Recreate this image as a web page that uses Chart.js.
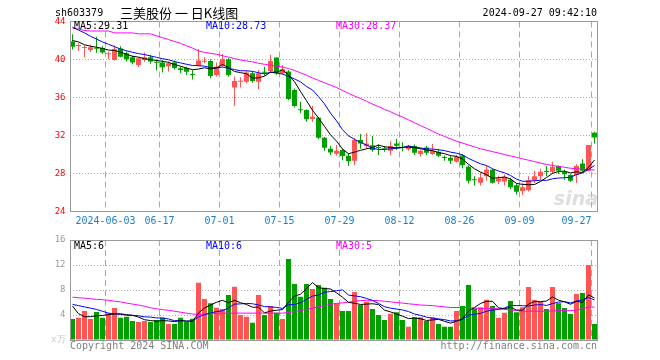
<!DOCTYPE html>
<html>
<head>
<meta charset="utf-8">
<script src="https://cdn.jsdelivr.net/npm/chart.js@4.4.1/dist/chart.umd.min.js"></script>
<style>
  html, body { margin: 0; padding: 0; background: #fff; }
  #wrap { position: relative; width: 660px; height: 360px; }
  #priceChart { position: absolute; left: 0; top: 0; }
  #volumeChart { position: absolute; left: 0; top: 230px; }
</style>
</head>
<body>
<div id="wrap">
  <canvas id="priceChart" width="660" height="232"></canvas>
  <canvas id="volumeChart" width="660" height="130"></canvas>
</div>
<script>
// ---- data (sh603379, daily) ----
const dates = [
  '2024-05-24','2024-05-27','2024-05-28','2024-05-29','2024-05-30','2024-05-31',
  '2024-06-03','2024-06-04','2024-06-05','2024-06-06','2024-06-07',
  '2024-06-11','2024-06-12','2024-06-13','2024-06-14',
  '2024-06-17','2024-06-18','2024-06-19','2024-06-20','2024-06-21',
  '2024-06-24','2024-06-25','2024-06-26','2024-06-27','2024-06-28',
  '2024-07-01','2024-07-02','2024-07-03','2024-07-04','2024-07-05',
  '2024-07-08','2024-07-09','2024-07-10','2024-07-11','2024-07-12',
  '2024-07-15','2024-07-16','2024-07-17','2024-07-18','2024-07-19',
  '2024-07-22','2024-07-23','2024-07-24','2024-07-25','2024-07-26',
  '2024-07-29','2024-07-30','2024-07-31','2024-08-01','2024-08-02',
  '2024-08-05','2024-08-06','2024-08-07','2024-08-08','2024-08-09',
  '2024-08-12','2024-08-13','2024-08-14','2024-08-15','2024-08-16',
  '2024-08-19','2024-08-20','2024-08-21','2024-08-22','2024-08-23',
  '2024-08-26','2024-08-27','2024-08-28','2024-08-29','2024-08-30',
  '2024-09-02','2024-09-03','2024-09-04','2024-09-05','2024-09-06',
  '2024-09-09','2024-09-10','2024-09-11','2024-09-12','2024-09-13',
  '2024-09-18','2024-09-19','2024-09-20',
  '2024-09-23','2024-09-24','2024-09-25','2024-09-26','2024-09-27'
];

const opens = [
  41.90, 41.42, 41.20, 41.00, 41.18, 41.22, 40.54, 39.96, 41.16, 40.67,
  40.24, 39.43, 39.96, 40.24, 39.70, 39.68, 39.30, 39.68, 39.08, 39.10,
  38.40, 39.33, 39.76, 39.85, 38.38, 39.35, 40.03, 37.04, 37.65, 37.67,
  38.56, 37.67, 38.64, 38.80, 40.20, 38.56, 38.73, 36.80, 34.70, 34.68,
  33.74, 33.87, 31.76, 30.60, 30.08, 30.47, 29.87, 29.34, 31.52, 30.89,
  30.97, 30.73, 30.60, 30.39, 31.17, 30.73, 30.54, 30.89, 30.04, 30.75,
  30.04, 30.29, 29.67, 29.65, 29.23, 29.90, 28.70, 27.32, 27.02, 27.72,
  28.40, 27.15, 27.15, 27.35, 26.77, 26.17, 26.25, 27.30, 27.72, 28.20,
  28.18, 28.78, 28.15, 27.83, 27.83, 29.06, 28.28, 32.29
];
const highs = [
  42.67, 41.72, 41.50, 41.55, 42.40, 41.40, 40.84, 41.50, 41.40, 40.85,
  40.40, 40.24, 40.73, 40.50, 40.03, 39.96, 39.80, 39.90, 39.25, 39.25,
  38.90, 41.10, 40.24, 40.03, 39.68, 40.59, 40.15, 38.20, 38.13, 38.85,
  38.75, 38.90, 39.25, 40.49, 40.20, 39.43, 38.90, 36.95, 35.55, 34.75,
  35.10, 33.98, 31.85, 30.89, 31.00, 30.60, 30.10, 31.70, 32.15, 32.23,
  31.94, 31.06, 30.90, 31.40, 31.63, 31.28, 31.00, 31.05, 30.55, 30.90,
  31.10, 30.55, 29.90, 29.82, 29.95, 30.05, 28.88, 27.70, 28.10, 28.88,
  28.50, 27.80, 27.90, 27.55, 26.95, 26.95, 27.70, 28.28, 28.50, 28.78,
  29.23, 28.85, 28.40, 27.95, 28.98, 29.50, 30.99, 32.40
];
const lows = [
  41.05, 40.90, 40.20, 40.80, 40.70, 40.60, 40.03, 39.90, 40.24, 39.80,
  39.50, 39.20, 39.75, 39.55, 38.83, 38.62, 38.75, 38.95, 38.55, 38.40,
  37.90, 39.30, 39.60, 38.03, 38.20, 39.20, 38.20, 35.10, 37.04, 37.50,
  37.55, 36.90, 38.30, 38.60, 38.40, 38.40, 35.70, 34.95, 34.33, 33.45,
  33.45, 31.60, 30.40, 29.94, 29.90, 29.40, 28.80, 28.88, 30.60, 30.60,
  30.30, 29.94, 30.30, 29.94, 30.50, 30.35, 30.40, 29.95, 29.80, 29.95,
  29.95, 29.70, 29.35, 29.00, 29.15, 28.54, 26.95, 26.75, 26.75, 27.25,
  26.95, 26.90, 26.75, 26.35, 25.80, 25.75, 26.10, 27.00, 27.30, 27.70,
  28.00, 27.95, 27.35, 27.10, 27.00, 28.15, 28.20, 31.17
];
const closes = [
  41.33, 41.46, 41.24, 41.30, 41.12, 40.73, 40.58, 41.09, 40.30, 40.03,
  39.68, 40.14, 40.24, 39.80, 39.66, 39.19, 39.60, 39.10, 38.90, 38.70,
  38.36, 39.90, 39.80, 38.27, 39.25, 40.06, 38.38, 37.74, 37.69, 38.62,
  37.74, 38.56, 38.60, 39.85, 38.56, 38.98, 35.85, 35.10, 34.66, 33.70,
  33.98, 31.76, 30.70, 30.20, 30.39, 29.83, 29.30, 31.52, 31.17, 31.17,
  30.47, 30.69, 30.55, 30.89, 30.92, 30.69, 30.89, 30.19, 30.39, 30.19,
  30.39, 29.87, 29.63, 29.34, 29.76, 28.88, 27.23, 27.28, 27.58, 28.40,
  27.02, 27.48, 27.65, 26.55, 26.07, 26.55, 27.30, 27.72, 28.18, 28.15,
  28.70, 28.28, 27.93, 27.23, 28.78, 28.28, 30.99, 31.80
];

const ma5 = [
  42.00, 41.85, 41.55, 41.40, 41.29, 41.17, 40.99, 40.96, 40.76, 40.55,
  40.34, 40.25, 40.08, 39.98, 39.90, 39.81, 39.70, 39.47, 39.29, 39.10,
  38.93, 38.99, 39.13, 39.01, 39.12, 39.46, 39.15, 38.74, 38.62, 38.50,
  38.03, 38.07, 38.24, 38.67, 38.66, 38.91, 38.37, 37.67, 36.63, 35.66,
  34.66, 33.84, 32.96, 32.07, 31.41, 30.58, 30.08, 30.25, 30.44, 30.60,
  30.73, 31.00, 30.81, 30.75, 30.70, 30.75, 30.79, 30.72, 30.62, 30.47,
  30.41, 30.21, 30.09, 29.88, 29.80, 29.50, 28.97, 28.50, 28.15, 27.87,
  27.50, 27.55, 27.63, 27.42, 26.95, 26.86, 26.82, 26.84, 27.16, 27.58,
  28.01, 28.21, 28.25, 28.06, 28.18, 28.10, 28.64, 29.42
];
const ma10 = [
  43.40, 43.10, 42.80, 42.45, 42.15, 41.85, 41.60, 41.35, 41.10, 40.92,
  40.76, 40.62, 40.52, 40.37, 40.23, 40.08, 39.98, 39.78, 39.64, 39.50,
  39.37, 39.35, 39.30, 39.15, 39.11, 39.20, 39.07, 38.94, 38.82, 38.81,
  38.75, 38.61, 38.49, 38.65, 38.58, 38.47, 38.22, 37.96, 37.65, 37.16,
  36.79, 36.10, 35.32, 34.35, 33.54, 32.62, 31.96, 31.60, 31.26, 31.00,
  30.66, 30.54, 30.53, 30.60, 30.65, 30.74, 30.90, 30.77, 30.69, 30.59,
  30.58, 30.50, 30.41, 30.25, 30.14, 29.96, 29.59, 29.30, 29.02, 28.84,
  28.50, 28.26, 28.07, 27.79, 27.41, 27.18, 27.19, 27.24, 27.29, 27.27,
  27.44, 27.52, 27.55, 27.61, 27.88, 28.06, 28.43, 28.84
];
const ma30 = [
  43.30, 43.20, 43.05, 43.00, 43.00, 43.00, 43.00, 42.80, 42.80, 42.80,
  42.80, 42.70, 42.70, 42.70, 42.50, 42.30, 42.10, 41.90, 41.70, 41.45,
  41.20, 40.90, 40.75, 40.65, 40.55, 40.40, 40.25, 40.10, 39.95, 39.85,
  39.75, 39.60, 39.50, 39.40, 39.30, 39.20, 39.05, 38.85, 38.60, 38.35,
  38.05, 37.80, 37.55, 37.30, 37.05, 36.75, 36.45, 36.15, 35.90, 35.60,
  35.30, 35.05, 34.75, 34.50, 34.20, 33.95, 33.65, 33.35, 33.05, 32.75,
  32.45, 32.15, 31.90, 31.65, 31.40, 31.20, 31.00, 30.80, 30.60, 30.45,
  30.30, 30.15, 30.00, 29.85, 29.70, 29.55, 29.40, 29.25, 29.10, 28.95,
  28.85, 28.75, 28.65, 28.55, 28.50, 28.45, 28.40, 28.37
];

// volume, unit: 10k lots
const volumes = [
  3.36, 3.57, 4.64, 3.36, 4.48, 3.57, 4.27, 5.12, 3.57, 3.73,
  3.04, 2.88, 3.04, 2.88, 3.20, 3.57, 2.56, 2.56, 3.57, 2.88,
  3.41, 9.17, 6.56, 5.87, 5.17, 4.96, 7.20, 8.53, 4.00, 3.73,
  2.77, 7.20, 4.00, 5.44, 4.37, 3.36, 12.96, 8.96, 6.93, 8.96,
  8.16, 8.80, 8.37, 6.56, 5.87, 4.64, 4.64, 7.68, 5.60, 6.13,
  4.96, 4.00, 3.20, 4.21, 4.43, 3.20, 2.13, 3.63, 3.63, 3.04,
  3.63, 2.56, 2.13, 2.13, 4.64, 5.44, 8.80, 5.07, 5.23, 6.45,
  5.44, 3.57, 4.37, 6.24, 4.43, 5.23, 8.48, 6.40, 6.13, 4.96,
  8.48, 5.87, 5.12, 4.16, 7.36, 7.52, 12.00, 2.56
];
const volMa5 = [
  5.44, 4.20, 3.73, 3.73, 3.88, 3.92, 4.06, 4.16, 4.20, 4.05,
  3.95, 3.67, 3.25, 3.11, 3.01, 3.11, 3.05, 2.95, 3.09, 3.03,
  3.00, 4.32, 5.12, 5.58, 6.04, 6.35, 5.95, 6.35, 5.97, 5.68,
  5.25, 5.25, 4.34, 4.63, 4.76, 4.87, 6.03, 7.02, 7.32, 8.23,
  9.19, 8.36, 8.24, 8.17, 7.55, 6.85, 6.02, 5.88, 5.69, 5.74,
  5.80, 5.67, 4.78, 4.50, 4.16, 3.81, 3.43, 3.52, 3.40, 3.13,
  3.21, 3.30, 3.00, 2.70, 3.02, 3.38, 4.63, 5.22, 5.84, 6.20,
  6.20, 5.15, 5.01, 5.21, 4.81, 4.77, 5.75, 6.16, 6.13, 6.24,
  6.89, 6.37, 6.11, 5.72, 6.20, 6.01, 7.23, 6.72
];
const volMa10 = [
  5.70, 5.50, 5.30, 5.10, 4.90, 4.60, 4.30, 4.20, 4.10, 3.97,
  3.94, 3.87, 3.71, 3.66, 3.53, 3.53, 3.36, 3.10, 3.10, 3.02,
  3.06, 3.69, 4.04, 4.34, 4.54, 4.68, 5.14, 5.74, 5.78, 5.86,
  5.80, 5.60, 5.35, 5.30, 5.22, 5.06, 5.64, 5.68, 5.98, 6.50,
  7.03, 7.20, 7.63, 7.75, 7.89, 8.02, 7.19, 7.06, 6.93, 6.65,
  6.33, 5.85, 5.33, 5.10, 4.95, 4.81, 4.55, 4.15, 3.95, 3.65,
  3.51, 3.37, 3.26, 3.05, 3.08, 3.30, 3.97, 4.11, 4.27, 4.61,
  4.79, 4.89, 5.12, 5.53, 5.51, 5.49, 5.45, 5.59, 5.67, 5.53,
  5.83, 6.06, 6.14, 5.93, 6.22, 6.45, 6.80, 6.42
];
const volMa30 = [
  6.85, 6.75, 6.70, 6.60, 6.50, 6.45, 6.35, 6.20, 6.10, 5.90,
  5.75, 5.60, 5.40, 5.15, 5.00, 4.85, 4.75, 4.60, 4.45, 4.30,
  4.15, 4.10, 4.15, 4.20, 4.25, 4.30, 4.30, 4.30, 4.30, 4.30,
  4.30, 4.30, 4.30, 4.30, 4.30, 4.30, 4.40, 4.55, 4.70, 4.90,
  5.10, 5.30, 5.50, 5.70, 5.85, 5.95, 6.05, 6.20, 6.30, 6.35,
  6.35, 6.30, 6.20, 6.10, 6.00, 5.90, 5.80, 5.70, 5.60, 5.55,
  5.50, 5.40, 5.30, 5.20, 5.20, 5.20, 5.20, 5.10, 5.05, 5.05,
  5.05, 5.00, 4.90, 4.80, 4.70, 4.60, 4.60, 4.60, 4.60, 4.60,
  4.65, 4.70, 4.70, 4.70, 4.80, 5.00, 5.30, 5.25
];

// axis ticks
const tickDates = ['2024-06-03','2024-06-17','2024-07-01','2024-07-15','2024-07-29',
                   '2024-08-12','2024-08-26','2024-09-09','2024-09-27'];
const tickLabels = ['2024-06-03','06-17','07-01','07-15','07-29','08-12','08-26','09-09','09-27'];
const priceTicks = [24, 28, 32, 36, 40, 44];
const volumeTicks = [0, 4, 8, 12, 16];

// texts
const stockCode = 'sh603379';
const chartTitle = '三美股份 一 日K线图';
const stampText = '2024-09-27 09:42:10';
const priceLegend = ['MA5:29.31', 'MA10:28.73', 'MA30:28.37'];
const volumeLegend = ['MA5:6', 'MA10:6', 'MA30:5'];

(function() {
    'use strict';

    const MONO = '"DejaVu Sans Mono", "Liberation Mono", monospace';
    const RED = '#ff5555';
    const GREEN = '#00a000';
    const LINE_COLORS = ['#000000', '#0000ff', '#ff00ff'];
    const FRAME = '#999999';

    const upColors = closes.map((c, i) => c >= opens[i] ? RED : GREEN);

    function isTickDate(i) {
        return tickDates.indexOf(dates[i]) !== -1;
    }

    // trailing spaces nudge the centred label left onto the dashed line
    function tickText(i) {
        const k = tickDates.indexOf(dates[i]);
        if (k === -1) return '';
        const pad = (k === tickDates.length - 1) ? '      ' : ' ';
        return tickLabels[k] + pad;
    }

    function xScale(showLabels, axisHeight) {
        return {
            offset: true,
            grid: {
                offset: true,
                drawTicks: false,
                color: ctx => (ctx.index !== undefined && isTickDate(ctx.index)) ? '#a8a8a8' : 'transparent'
            },
            border: { display: false, dash: [6, 4] },
            ticks: {
                display: showLabels,
                autoSkip: false,
                maxRotation: 0,
                padding: 4,
                color: '#1a7fcf',
                font: { family: MONO, size: 10 },
                callback: (v, i) => tickText(i)
            },
            afterFit: s => { s.height = axisHeight; }
        };
    }

    function yScale(min, max, ticks, color, callback) {
        return {
            min: min,
            max: max,
            afterBuildTicks: s => { s.ticks = ticks.map(v => ({ value: v })); },
            grid: {
                drawTicks: false,
                color: ctx => (ctx.tick && (ctx.tick.value === min || ctx.tick.value === max)) ? 'transparent' : '#b0b0b0'
            },
            border: { display: false, dash: [1, 2] },
            ticks: {
                padding: 4,
                color: color,
                font: { family: MONO, size: 9 },
                callback: callback
            },
            afterFit: s => { s.width = 69.5; }
        };
    }

    function maDataset(data, color) {
        return {
            type: 'line',
            data: data,
            borderColor: color,
            borderWidth: 1,
            pointRadius: 0,
            tension: 0,
            order: 0
        };
    }

    function drawFrame(chart) {
        const a = chart.chartArea;
        const ctx = chart.ctx;
        const l = Math.round(a.left) + 0.5;
        const r = Math.round(a.right) - 0.5;
        const t = Math.floor(a.top) + 0.5;
        const b = Math.floor(a.bottom) + 0.5;
        ctx.save();
        ctx.strokeStyle = FRAME;
        ctx.lineWidth = 1;
        ctx.strokeRect(l, t, r - l, b - t);
        ctx.restore();
    }

    function drawLegend(ctx, texts, y) {
        const xs = [74, 206, 336];
        ctx.font = '10px ' + MONO;
        ctx.textBaseline = 'middle';
        ctx.textAlign = 'left';
        texts.forEach((t, i) => {
            ctx.fillStyle = LINE_COLORS[i];
            ctx.fillText(t, xs[i], y);
        });
    }

    const priceDecor = {
        id: 'priceDecor',
        afterDraw(chart) {
            drawFrame(chart);
            const ctx = chart.ctx;
            ctx.save();
            ctx.textBaseline = 'middle';
            ctx.fillStyle = '#000';
            ctx.font = '10px ' + MONO;
            ctx.textAlign = 'left';
            ctx.fillText(stockCode, 55, 13);
            ctx.textAlign = 'right';
            ctx.fillText(stampText, 597, 13);
            ctx.textAlign = 'left';
            ctx.font = '13px "Noto Sans CJK SC", sans-serif';
            ctx.fillText(chartTitle, 120, 13);
            drawLegend(ctx, priceLegend, 26.5);
            // faint sina watermark
            ctx.font = 'italic bold 19px "DejaVu Sans", sans-serif';
            ctx.fillStyle = 'rgba(200, 200, 200, 0.6)';
            ctx.textAlign = 'right';
            ctx.textBaseline = 'alphabetic';
            ctx.fillText('sina', 598, 205);
            ctx.restore();
        }
    };

    const volumeDecor = {
        id: 'volumeDecor',
        afterDraw(chart) {
            drawFrame(chart);
            const ctx = chart.ctx;
            ctx.save();
            drawLegend(ctx, volumeLegend, 16.5);
            ctx.font = '10px ' + MONO;
            ctx.fillStyle = '#808080';
            ctx.textBaseline = 'middle';
            ctx.textAlign = 'left';
            ctx.fillText('Copyright 2024 SINA.COM', 70, 116);
            ctx.textAlign = 'right';
            ctx.fillText('http://finance.sina.com.cn', 597, 116);
            ctx.restore();
        }
    };

    const common = {
        responsive: false,
        animation: false,
        events: [],
        plugins: { legend: { display: false }, tooltip: { enabled: false } }
    };

    // Price (candlestick) chart: wick and body as floating bars
    new Chart(document.getElementById('priceChart').getContext('2d'), {
        type: 'bar',
        data: {
            labels: dates,
            datasets: [
                maDataset(ma5, LINE_COLORS[0]),
                maDataset(ma10, LINE_COLORS[1]),
                maDataset(ma30, LINE_COLORS[2]),
                {
                    data: opens.map((o, i) => [o, closes[i]]),
                    backgroundColor: upColors,
                    barThickness: 5,
                    minBarLength: 1,
                    inflateAmount: 0,
                    grouped: false,
                    order: 1
                },
                {
                    data: lows.map((l, i) => [l, highs[i]]),
                    backgroundColor: upColors,
                    barThickness: 1,
                    inflateAmount: 0,
                    grouped: false,
                    order: 2
                }
            ]
        },
        options: Object.assign({}, common, {
            layout: { padding: { left: 0, right: 62.5, top: 21.5, bottom: 0 } },
            scales: {
                x: xScale(true, 20.5),
                y: yScale(24, 44, priceTicks, '#ff0000')
            }
        }),
        plugins: [priceDecor]
    });

    // Volume chart
    new Chart(document.getElementById('volumeChart').getContext('2d'), {
        type: 'bar',
        data: {
            labels: dates,
            datasets: [
                maDataset(volMa5, LINE_COLORS[0]),
                maDataset(volMa10, LINE_COLORS[1]),
                maDataset(volMa30, LINE_COLORS[2]),
                {
                    data: volumes,
                    backgroundColor: upColors,
                    barThickness: 5,
                    inflateAmount: 0,
                    order: 1
                }
            ]
        },
        options: Object.assign({}, common, {
            layout: { padding: { left: 0, right: 62.5, top: 10, bottom: 20 } },
            scales: {
                x: xScale(false, 0),
                y: yScale(0, 16, volumeTicks, ctx => ctx.tick && ctx.tick.value === 0 ? '#c8c8c8' : '#999999',
                    v => v === 0 ? 'x万' : String(v))
            }
        }),
        plugins: [volumeDecor]
    });
})();
</script>
</body>
</html>
